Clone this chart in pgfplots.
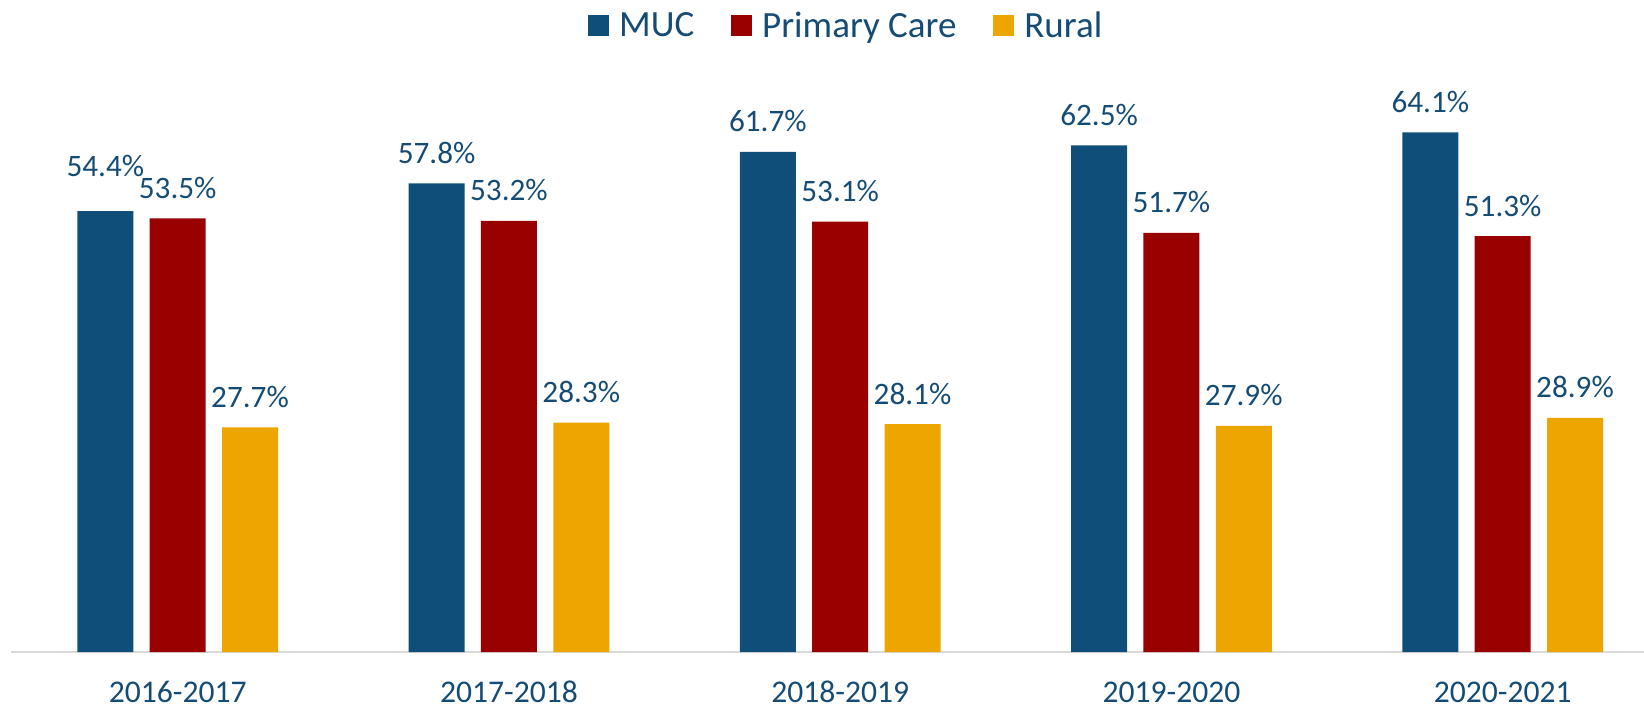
\documentclass[border=0pt]{standalone}
\usepackage{pgfplots}
\pgfplotsset{compat=1.18}
\usepackage{fontspec}
\setmainfont{Carlito}
\definecolor{mucblue}{RGB}{16,78,122}
\definecolor{pcred}{RGB}{153,0,0}
\definecolor{ruralyel}{RGB}{237,165,0}
\definecolor{txtblue}{RGB}{20,76,118}
\definecolor{axgray}{RGB}{217,217,217}
\begin{document}
\begin{tikzpicture}
\begin{axis}[
  at={(0,0)}, anchor=south west,
  scale only axis,
  width=816.5pt, height=283.7pt,
  xmin=-0.5033, xmax=4.4266,
  ymin=0, ymax=70,
  ybar=8.15pt, bar width=28pt,
  hide y axis,
  axis x line*=bottom,
  x axis line style={-, draw=axgray, line width=1pt},
  xtick={0,1,2,3,4},
  xticklabels={2016-2017,2017-2018,2018-2019,2019-2020,2020-2021},
  major tick length=0pt,
  xticklabel style={anchor=base, yshift=-25pt, inner ysep=0.5pt, font=\fontsize{15.8}{18}\selectfont, text=txtblue},
  clip=false,
  /pgf/number format/assume math mode=true,
  nodes near coords={\pgfmathprintnumber[fixed,fixed zerofill,precision=1]{\pgfplotspointmeta}\%},
  visualization depends on={\thisrow{off} \as \myoff},
  every node near coord/.append style={anchor=base, yshift=\myoff pt, font=\fontsize{15.6}{18}\selectfont, text=txtblue},
  legend columns=3,
  legend image code/.code={\fill[#1] (0pt,-5.25pt) rectangle (10.5pt,5.25pt);},
  legend style={at={(0.5107,1.1034)}, anchor=center, draw=none, fill=none,
    font=\fontsize{18.5}{22}\selectfont, text=txtblue,
    nodes={inner xsep=0pt},
    /tikz/every odd column/.append style={column sep=5.25pt},
    /tikz/every even column/.append style={column sep=18.2pt}},
]
\addplot[fill=mucblue, draw=none] table {
x y off
0 54.4 17.5
1 57.8 10
2 61.7 10
3 62.5 10
4 64.1 10
};
\addplot[fill=pcred, draw=none] table {
x y off
0 53.5 10
1 53.2 10
2 53.1 10
3 51.7 10
4 51.3 10
};
\addplot[fill=ruralyel, draw=none] table {
x y off
0 27.7 10
1 28.3 10
2 28.1 10
3 27.9 10
4 28.9 10
};
\legend{MUC, Primary Care, Rural}
\end{axis}
\pgfresetboundingbox
\useasboundingbox (-5.5pt,-27.5pt) rectangle (816.5pt,326pt);
\end{tikzpicture}
\end{document}
